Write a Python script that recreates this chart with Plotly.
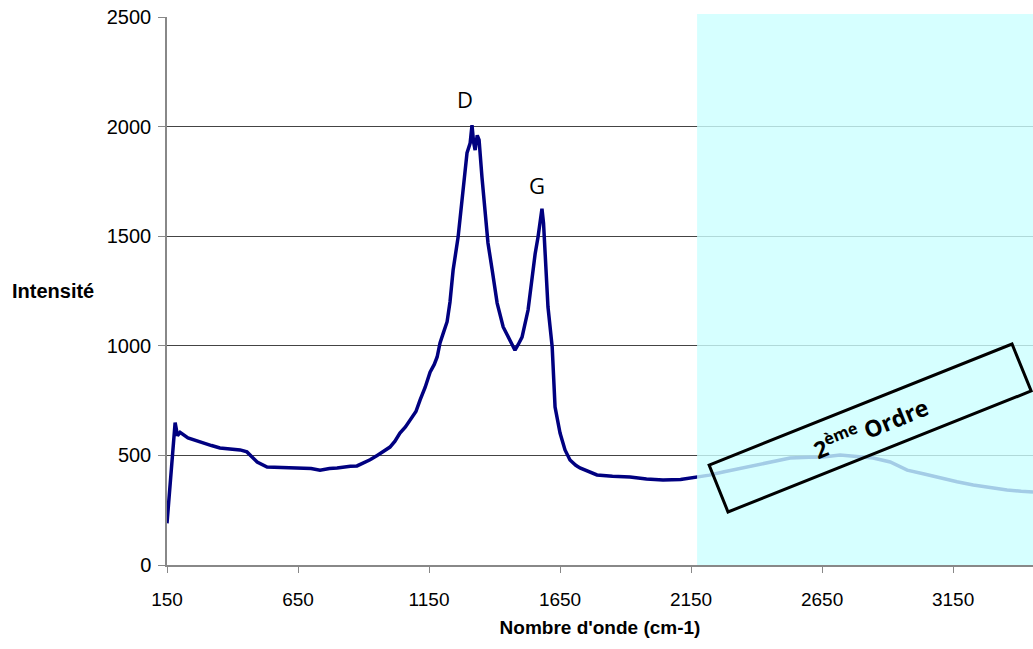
import plotly.graph_objects as go

# Raman spectrum
wavenumber = [150, 165, 181, 190, 200, 230, 276, 320, 352, 400, 429, 455, 475, 494, 532,
              580, 620, 658, 700, 734, 770, 799, 822, 850, 875, 900, 925, 952, 980, 1001,
              1020, 1039, 1060, 1078, 1100, 1116, 1135, 1154, 1170, 1181, 1192, 1205, 1219,
              1230, 1242, 1261, 1280, 1295, 1307, 1314, 1320, 1326, 1334, 1341, 1352, 1364,
              1375, 1391, 1410, 1433, 1459, 1470, 1478, 1490, 1505, 1528, 1545, 1555, 1566,
              1575, 1581, 1587, 1593, 1604, 1620, 1631, 1650, 1669, 1688, 1710, 1726, 1760,
              1791, 1850, 1917, 1980, 2043, 2110, 2173, 2220, 2272, 2340, 2402, 2470, 2528,
              2600, 2654, 2719, 2780, 2845, 2910, 2975, 3040, 3101, 3165, 3227, 3290, 3356,
              3410, 3455]
intensity = [190, 420, 650, 590, 605, 580, 561, 545, 534, 528, 525, 516, 490, 470, 447,
             445, 440, 442, 440, 432, 440, 442, 447, 450, 452, 465, 480, 500, 520, 538,
             565, 602, 630, 661, 700, 753, 810, 880, 915, 949, 1013, 1060, 1110,
             1200, 1346, 1496, 1697, 1880, 1925, 2007, 1930, 1893, 1960, 1939, 1770, 1620,
             1469, 1346, 1195, 1086, 1026, 1000, 980, 1005, 1040, 1163, 1330, 1420, 1496,
             1570, 1625, 1560, 1437, 1177, 995, 721, 602, 525, 479, 455, 443, 425,
             411, 405, 401, 392, 388, 390, 401, 410, 424, 440, 456, 472, 488,
             492, 493, 502, 495, 488, 470, 433, 415, 397, 380, 365, 352, 342,
             336, 333]

x_range = [150, 3455]
y_range = [0, 2500]
x_ticks = [150, 650, 1150, 1650, 2150, 2650, 3150]
y_ticks = [0, 500, 1000, 1500, 2000, 2500]

second_order_start = 2173
peak_labels = ["D", "G"]
peak_label_x = [1287, 1562]
peak_label_y = [2126, 1734]

fig = go.Figure()
fig.add_trace(go.Scatter(x=wavenumber, y=intensity, mode="lines",
                         line=dict(color="#000080", width=3.5),
                         showlegend=False, hoverinfo="skip"))

W, H = 1033, 649
ml, mr, mt, mb = 167, 0, 17, 84

def xpaper(v):
    return (v - x_range[0]) / (x_range[1] - x_range[0])

# second-order translucent cyan zone
fig.add_shape(type="rect", xref="paper", yref="paper",
              x0=xpaper(second_order_start), x1=1.0, y0=0, y1=1 + 3 / (H - mt - mb),
              fillcolor="rgba(204,255,255,0.8)", line=dict(width=0), layer="above")

# rotated box around the "2ème Ordre" label (data coords)
box = [(2219, 456), (3375, 1008), (3448, 794), (2291, 242)]
path = "M {} {} L {} {} L {} {} L {} {} Z".format(*[c for p in box for c in p])
fig.add_shape(type="path", xref="x", yref="y", path=path,
              line=dict(color="black", width=3), fillcolor="rgba(0,0,0,0)", layer="above")

cx = sum(p[0] for p in box) / 4
cy = sum(p[1] for p in box) / 4
fig.add_annotation(x=cx, y=cy, xref="x", yref="y", text="2<sup>ème</sup> Ordre",
                   showarrow=False, textangle=-22,
                   font=dict(family="Open Sans", size=23, color="black", weight="bold"))

for lab, lx, ly in zip(peak_labels, peak_label_x, peak_label_y):
    fig.add_annotation(x=lx, y=ly, xref="x", yref="y", text=lab, showarrow=False,
                       font=dict(family="Open Sans", size=22, color="black"))

fig.add_annotation(x=(10 - ml) / (W - ml - mr), y=0.5, xref="paper", yref="paper",
                   xanchor="left", yanchor="middle", text="<b>Intensité</b>", showarrow=False,
                   font=dict(family="Liberation Sans", size=20, color="black"))

fig.update_xaxes(range=x_range, tickvals=x_ticks, ticktext=[str(t) for t in x_ticks],
                 showgrid=False, zeroline=False, showline=True, linecolor="#888888",
                 linewidth=1.5, ticks="outside", ticklen=6, tickcolor="#888888",
                 ticklabelstandoff=10,
                 tickfont=dict(family="Liberation Sans", size=19, color="black"),
                 title=dict(text="<b>Nombre d'onde (cm-1)</b>", standoff=12,
                            font=dict(family="Liberation Sans", size=19, color="black")))
fig.update_yaxes(range=y_range, tickvals=y_ticks, showgrid=True, gridcolor="#444444",
                 gridwidth=1, zeroline=False, showline=True, linecolor="#888888",
                 linewidth=1.5, ticks="outside", ticklen=7, tickcolor="#888888",
                 ticklabelstandoff=3,
                 tickfont=dict(family="Liberation Sans", size=20, color="black"))

fig.update_layout(width=W, height=H, margin=dict(l=ml, r=mr, t=mt, b=mb),
                  plot_bgcolor="white", paper_bgcolor="white")

fig.write_html("out.html", config={"displayModeBar": False},
               post_script="document.body.style.margin='0';"
                           "document.body.style.overflow='hidden';")
